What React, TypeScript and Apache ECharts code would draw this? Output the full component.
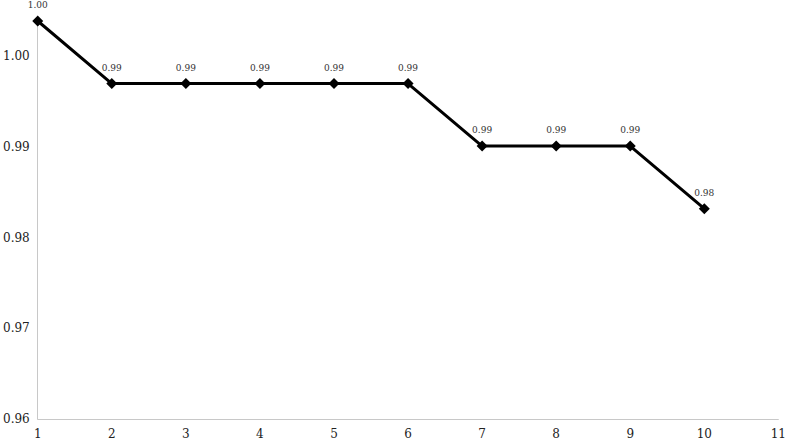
import React, { useEffect, useRef } from "react";
import * as echarts from "echarts";

const xValues = [1, 2, 3, 4, 5, 6, 7, 8, 9, 10];
const yValues = [1.0, 0.9931, 0.9931, 0.9931, 0.9931, 0.9931, 0.9862, 0.9862, 0.9862, 0.9793];
const yMin = 0.9561;
const yMax = 1.0;
const xMin = 1;
const xMax = 11;

export default function App() {
  const ref = useRef<HTMLDivElement>(null);
  useEffect(() => {
    if (!ref.current) return;
    const chart = echarts.init(ref.current, undefined, { renderer: "svg" });
    const font = "DejaVu Serif";
    chart.setOption({
      animation: false,
      backgroundColor: "#ffffff",
      textStyle: { fontFamily: font },
      grid: { left: 37, right: 8, top: 21, bottom: 23, containLabel: false },
      xAxis: {
        type: "value",
        min: xMin,
        max: xMax,
        interval: 1,
        axisLine: { show: true, lineStyle: { color: "#c8c8c8", width: 1 } },
        axisTick: { show: false },
        splitLine: { show: false },
        axisLabel: { color: "#222", fontFamily: font, fontSize: 12, margin: 9 },
      },
      yAxis: {
        type: "value",
        min: yMin,
        max: yMax,
        interval: 0.01,
        axisLine: { show: true, lineStyle: { color: "#c8c8c8", width: 1 } },
        axisTick: { show: false },
        splitLine: { show: false },
        axisLabel: {
          color: "#222",
          fontFamily: font,
          fontSize: 12,
          margin: 8,
          showMaxLabel: false,
          formatter: (v: number) => v.toFixed(2),
        },
      },
      series: [
        {
          type: "line",
          data: xValues.map((x, i) => [x, yValues[i]]),
          symbol: "diamond",
          symbolSize: 11,
          lineStyle: { color: "#000", width: 3 },
          itemStyle: { color: "#000" },
          label: {
            show: true,
            position: "top",
            distance: 6,
            color: "#333",
            fontFamily: font,
            fontSize: 9,
            formatter: (p: any) => Number(p.value[1]).toFixed(2),
          },
        },
      ],
    });
    return () => chart.dispose();
  }, []);
  return <div ref={ref} style={{ width: 789, height: 442, position: "absolute", left: 0, top: 0 }} />;
}
